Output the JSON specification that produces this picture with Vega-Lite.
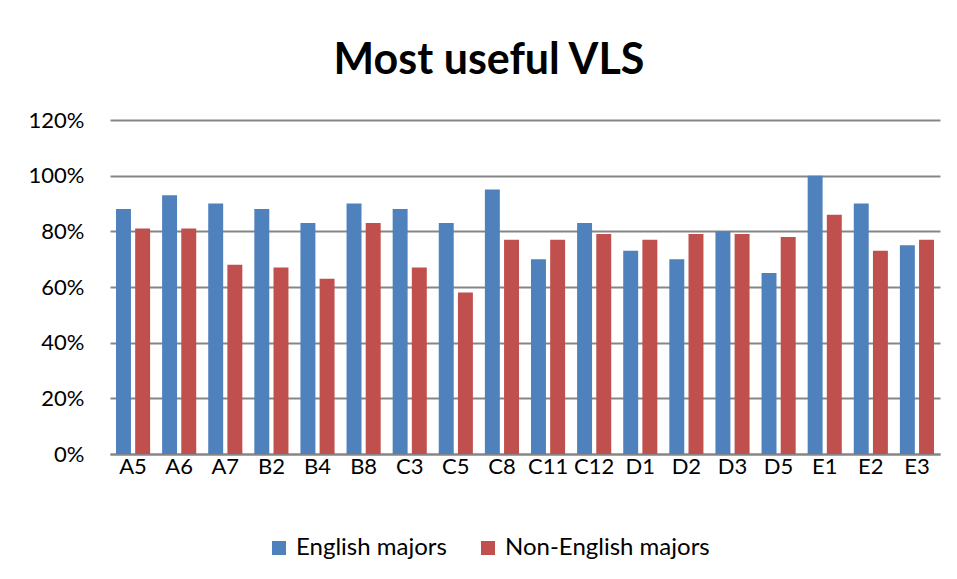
{
  "$schema": "https://vega.github.io/schema/vega-lite/v6.json",
  "width": 830,
  "height": 334,
  "autosize": {"type": "none"},
  "padding": {"left": 110, "top": 120, "right": 17, "bottom": 125},
  "background": "white",
  "title": {
    "text": "Most useful VLS",
    "font": "Lato",
    "fontSize": 43,
    "fontWeight": "bold",
    "color": "#000000",
    "anchor": "middle",
    "frame": "group",
    "baseline": "alphabetic",
    "offset": -8,
    "dx": -36
  },
  "data": {
    "values": [
      {"item": "A5", "group": "English majors", "value": 0.88},
      {"item": "A5", "group": "Non-English majors", "value": 0.81},
      {"item": "A6", "group": "English majors", "value": 0.93},
      {"item": "A6", "group": "Non-English majors", "value": 0.81},
      {"item": "A7", "group": "English majors", "value": 0.90},
      {"item": "A7", "group": "Non-English majors", "value": 0.68},
      {"item": "B2", "group": "English majors", "value": 0.88},
      {"item": "B2", "group": "Non-English majors", "value": 0.67},
      {"item": "B4", "group": "English majors", "value": 0.83},
      {"item": "B4", "group": "Non-English majors", "value": 0.63},
      {"item": "B8", "group": "English majors", "value": 0.90},
      {"item": "B8", "group": "Non-English majors", "value": 0.83},
      {"item": "C3", "group": "English majors", "value": 0.88},
      {"item": "C3", "group": "Non-English majors", "value": 0.67},
      {"item": "C5", "group": "English majors", "value": 0.83},
      {"item": "C5", "group": "Non-English majors", "value": 0.58},
      {"item": "C8", "group": "English majors", "value": 0.95},
      {"item": "C8", "group": "Non-English majors", "value": 0.77},
      {"item": "C11", "group": "English majors", "value": 0.70},
      {"item": "C11", "group": "Non-English majors", "value": 0.77},
      {"item": "C12", "group": "English majors", "value": 0.83},
      {"item": "C12", "group": "Non-English majors", "value": 0.79},
      {"item": "D1", "group": "English majors", "value": 0.73},
      {"item": "D1", "group": "Non-English majors", "value": 0.77},
      {"item": "D2", "group": "English majors", "value": 0.70},
      {"item": "D2", "group": "Non-English majors", "value": 0.79},
      {"item": "D3", "group": "English majors", "value": 0.80},
      {"item": "D3", "group": "Non-English majors", "value": 0.79},
      {"item": "D5", "group": "English majors", "value": 0.65},
      {"item": "D5", "group": "Non-English majors", "value": 0.78},
      {"item": "E1", "group": "English majors", "value": 1.00},
      {"item": "E1", "group": "Non-English majors", "value": 0.86},
      {"item": "E2", "group": "English majors", "value": 0.90},
      {"item": "E2", "group": "Non-English majors", "value": 0.73},
      {"item": "E3", "group": "English majors", "value": 0.75},
      {"item": "E3", "group": "Non-English majors", "value": 0.77}
    ]
  },
  "mark": {"type": "bar"},
  "encoding": {
    "x": {
      "field": "item",
      "type": "nominal",
      "sort": null,
      "scale": {"paddingInner": 0.26, "paddingOuter": 0.13},
      "axis": {
        "title": null,
        "labelAngle": 0,
        "labelFont": "Lato",
        "labelFontSize": 22,
        "labelColor": "#000000",
        "labelPadding": 2,
        "ticks": false,
        "domainColor": "#868686",
        "domainWidth": 2
      }
    },
    "xOffset": {
      "field": "group",
      "type": "nominal",
      "scale": {"paddingInner": 0.22}
    },
    "y": {
      "field": "value",
      "type": "quantitative",
      "scale": {"domain": [0, 1.2], "nice": false},
      "axis": {
        "title": null,
        "format": ".0%",
        "values": [0, 0.2, 0.4, 0.6, 0.8, 1.0, 1.2],
        "labelFont": "Lato",
        "labelFontSize": 22,
        "labelColor": "#000000",
        "labelPadding": 26,
        "domain": false,
        "ticks": false,
        "gridColor": "#868686",
        "gridWidth": 2
      }
    },
    "color": {
      "field": "group",
      "type": "nominal",
      "scale": {
        "domain": ["English majors", "Non-English majors"],
        "range": ["#4F81BD", "#C0504D"]
      },
      "legend": {
        "title": null,
        "orient": "none",
        "direction": "horizontal",
        "legendX": 157,
        "legendY": 416,
        "symbolType": "square",
        "symbolSize": 196,
        "symbolStrokeWidth": 0,
        "symbolOpacity": 1,
        "labelFont": "Lato",
        "labelFontSize": 24,
        "labelColor": "#000000",
        "labelOffset": 5,
        "labelLimit": 400,
        "columnPadding": 29
      }
    }
  },
  "config": {"view": {"stroke": null}}
}
